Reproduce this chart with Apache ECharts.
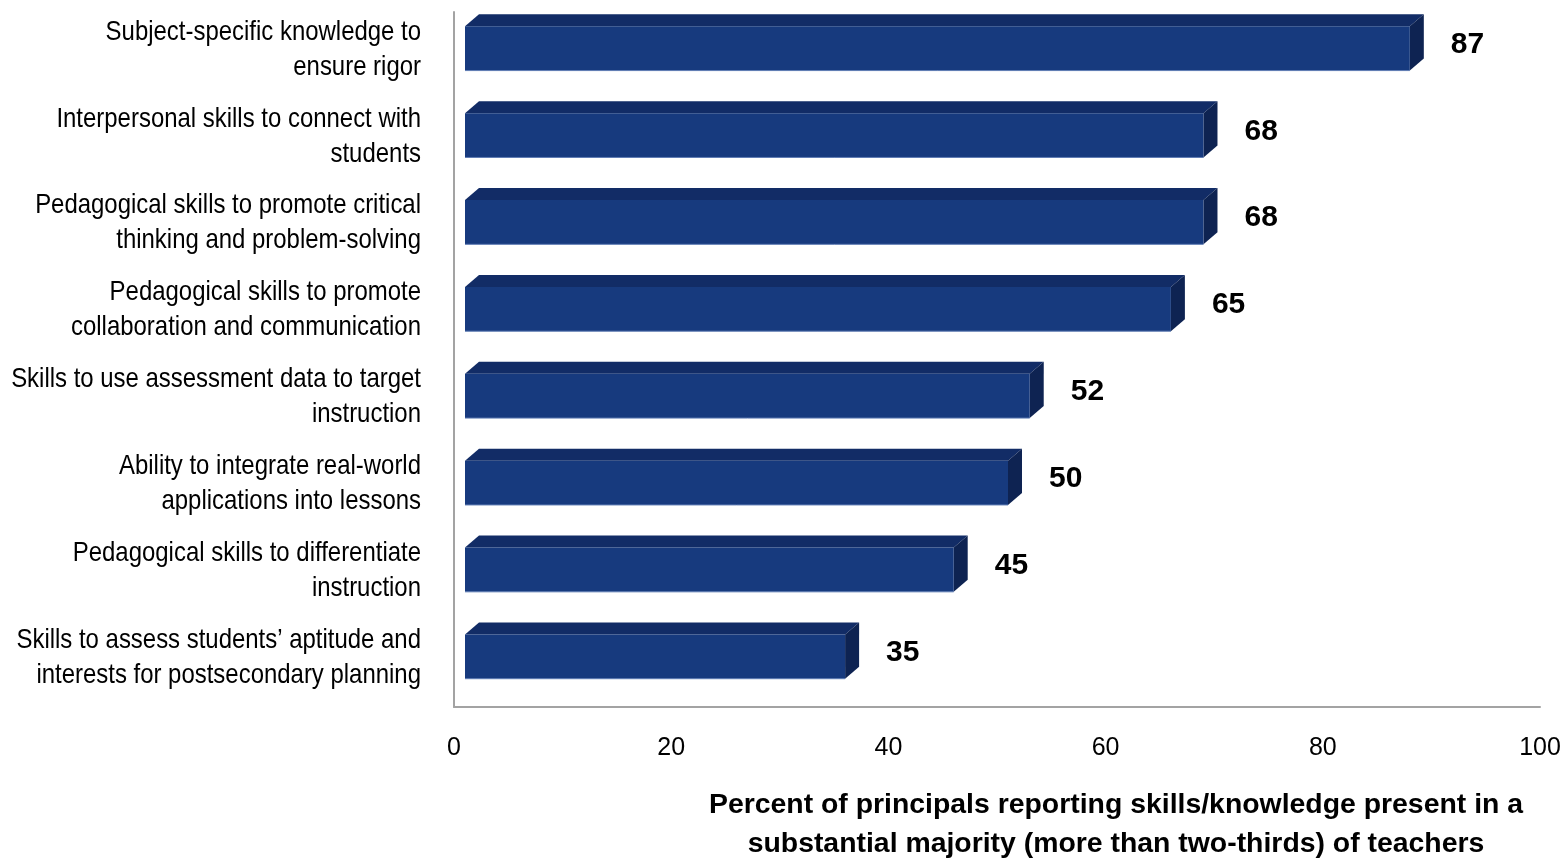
<!DOCTYPE html>
<html>
<head>
<meta charset="utf-8">
<title>Teacher skills reported by principals</title>
<script src="https://cdn.jsdelivr.net/npm/echarts@6/dist/echarts.min.js"></script>
<style>
  html, body { margin: 0; padding: 0; background: #ffffff; }
  #chart { width: 1564px; height: 862px; }
</style>
</head>
<body>
<div id="chart"></div>
<script>
// Skill categories, listed top to bottom
const categories = [
  'Subject-specific knowledge to\nensure rigor',
  'Interpersonal skills to connect with\nstudents',
  'Pedagogical skills to promote critical\nthinking and problem-solving',
  'Pedagogical skills to promote\ncollaboration and communication',
  'Skills to use assessment data to target\ninstruction',
  'Ability to integrate real-world\napplications into lessons',
  'Pedagogical skills to differentiate\ninstruction',
  'Skills to assess students\u2019 aptitude and\ninterests for postsecondary planning'
];

// Percent of principals reporting each skill
const percentValues = [87, 68, 68, 65, 52, 50, 45, 35];

// Value axis ticks
const axisMin = 0;
const axisMax = 100;
const axisStep = 20;

const axisTitle = 'Percent of principals reporting skills/knowledge present in a\nsubstantial majority (more than two-thirds) of teachers';

const SANS = "'Liberation Sans', Arial, sans-serif";

const FRONT = '#173a7e';
const TOP = '#122c66';
const SIDE = '#0e2352';

const chart = echarts.init(document.getElementById('chart'), null, { renderer: 'canvas' });

// Draws one extruded (pseudo 3D) bar, its value label and its category label
function renderBar(params, api) {
  const value = api.value(0);
  const idx = api.value(1);
  const start = api.coord([0, idx]);
  const end = api.coord([value, idx]);
  const band = api.size([0, 1])[1];
  const shift = 11;          // front face sits slightly right of the axis
  const dx = 14, dy = 12;    // extrusion depth
  const h = band * 0.51;
  const yc = start[1] - 7;
  const x0 = start[0] + shift;
  const x1 = end[0] + shift;
  const top = yc - h / 2;
  const bottom = yc + h / 2;
  return {
    type: 'group',
    children: [
      {
        type: 'polygon',
        shape: { points: [[x0, top], [x0 + dx, top - dy], [x1 + dx, top - dy], [x1, top]] },
        style: { fill: TOP }
      },
      {
        type: 'polygon',
        shape: { points: [[x1, top], [x1 + dx, top - dy], [x1 + dx, bottom - dy], [x1, bottom]] },
        style: { fill: SIDE }
      },
      {
        type: 'rect',
        shape: { x: x0, y: top, width: x1 - x0, height: h },
        style: { fill: FRONT }
      },
      {
        type: 'line',
        shape: { x1: x0, y1: bottom, x2: x1, y2: bottom },
        style: { stroke: '#5f7cb4', lineWidth: 1 }
      },
      {
        type: 'text',
        x: x1 + dx + 27,
        y: yc - 4,
        style: {
          text: String(value),
          fill: '#000000',
          font: "bold 30px 'Liberation Sans', Arial, sans-serif",
          align: 'left',
          verticalAlign: 'middle'
        }
      },
      {
        // condensed category label, right-aligned against the axis
        type: 'text',
        x: start[0] - 33,
        y: start[1] - 6,
        scaleX: 0.855,
        style: {
          text: categories[idx],
          fill: '#000000',
          font: "28px 'Liberation Sans', Arial, sans-serif",
          lineHeight: 35,
          align: 'right',
          verticalAlign: 'middle'
        }
      }
    ]
  };
}

const option = {
  animation: false,
  backgroundColor: '#ffffff',
  title: {
    text: axisTitle,
    left: 1111,
    top: 781,
    textAlign: 'center',
    textStyle: {
      fontFamily: SANS,
      fontWeight: 'bold',
      fontSize: 28.4,
      lineHeight: 39,
      color: '#000000'
    }
  },
  grid: { left: 454, right: 24, top: 12, bottom: 155, containLabel: false, outerBoundsMode: 'none' },
  xAxis: {
    type: 'value',
    min: axisMin,
    max: axisMax,
    interval: axisStep,
    axisLine: { show: true, lineStyle: { color: '#a3a3a3', width: 2 } },
    axisTick: { show: false },
    splitLine: { show: false },
    axisLabel: {
      margin: 29,
      fontFamily: SANS,
      fontSize: 25,
      color: '#000000'
    }
  },
  yAxis: {
    type: 'category',
    inverse: true,
    data: categories,
    axisLine: { show: true, lineStyle: { color: '#a3a3a3', width: 2 } },
    axisTick: { show: false },
    splitLine: { show: false },
    axisLabel: { show: false }
  },
  series: [{
    type: 'custom',
    renderItem: renderBar,
    encode: { x: 0, y: 1 },
    clip: false,
    data: percentValues.map((v, i) => [v, i])
  }]
};

chart.setOption(option);
</script>
</body>
</html>
